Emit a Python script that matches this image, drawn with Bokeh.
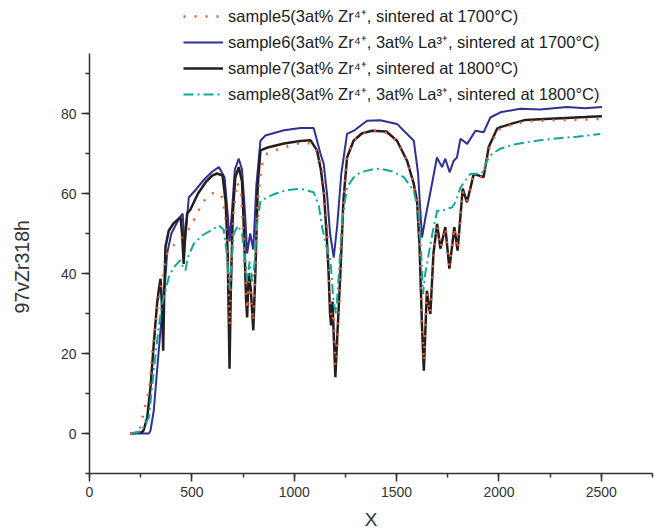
from bokeh.plotting import figure
from bokeh.models import Range1d, SingleIntervalTicker, Legend, LegendItem
from bokeh.embed import file_html
from bokeh.resources import INLINE

# ---- data ----
labels = [
    "sample5(3at% Zr\u2074\u207a, sintered at 1700\u00b0C)",
    "sample6(3at% Zr\u2074\u207a, 3at% La\u00b3\u207a, sintered at 1700\u00b0C)",
    "sample7(3at% Zr\u2074\u207a, sintered at 1800\u00b0C)",
    "sample8(3at% Zr\u2074\u207a, 3at% La\u00b3\u207a, sintered at 1800\u00b0C)",
]
x_title = "X"
y_title = "97vZr318h"

x5 = [200, 230, 246, 259, 270, 283, 293, 306, 317, 330, 342, 360, 379, 400, 428, 460, 493, 530, 566,
      600, 623, 645, 662, 675, 684, 692, 703, 721, 740, 752, 762, 770, 778, 788, 800, 810, 822, 840,
      868, 920, 998, 1050, 1090, 1115, 1140, 1160, 1175, 1185, 1193, 1200, 1207, 1215, 1226, 1240,
      1258, 1290, 1330, 1380, 1440, 1502, 1551, 1584, 1600, 1612, 1622, 1633, 1641, 1648, 1657, 1665,
      1680, 1698, 1714, 1738, 1758, 1782, 1798, 1823, 1844, 1877, 1925, 1950, 1991, 2050, 2129, 2250,
      2350, 2450, 2500]
y5 = [0, 0.6, 1.2, 4, 6.6, 9, 11.6, 20, 25.3, 30.7, 35, 40, 45, 46.5, 47.8, 49.5, 51.6, 55.5, 58.7,
      60, 60.3, 59.5, 55, 45, 27, 40, 55, 62.8, 60, 50, 38, 31, 38, 35, 28, 40, 58, 67,
      70, 71, 72.3, 72.8, 72.3, 70, 65, 52, 33, 28, 30, 17, 18, 28, 40, 58,
      69, 73.2, 75, 75.7, 75.5, 73.2, 68.2, 62.4, 58, 48, 30, 18, 27, 35, 32, 30,
      44, 52, 46.5, 51.5, 42, 51.5, 46, 60.5, 58, 64.5, 64, 71, 75.8, 77, 78, 78.3,
      78.4, 78.5, 78.7]

x6 = [200, 290, 298, 314, 330, 355, 371, 379, 400, 440, 455, 465, 475, 485, 520, 560, 600, 632, 660,
      675, 684, 695, 710, 729, 745, 760, 770, 785, 800, 815, 835, 859, 950, 1030, 1095, 1128, 1144,
      1160, 1175, 1193, 1210, 1230, 1258, 1291, 1356, 1420, 1502, 1584, 1605, 1624, 1641, 1657, 1675,
      1697, 1722, 1738, 1759, 1779, 1795, 1812, 1845, 1885, 1925, 1958, 2007, 2104, 2202, 2332, 2420,
      2503]
y6 = [0, 0, 0.75, 5.75, 15.75, 30.75, 39, 45, 50, 54, 55, 47, 53, 59, 61, 63.5, 65.5, 66.6, 64,
      55, 48, 55, 66, 68.7, 66, 55, 45, 50, 46, 62, 73.2, 74.5, 75.8, 76.4, 76.4, 70, 67.4,
      60, 50, 44, 52, 65, 74.9, 75.7, 78.2, 78.3, 77.4, 73.2, 65, 49, 54, 58.2, 63,
      69, 66.6, 68.7, 65.3, 68.2, 69, 73.7, 72.4, 75.7, 75.3, 79, 80.3, 81.2, 81, 81.6, 81.3,
      81.6]

x7 = [200, 255, 264, 282, 298, 314, 330, 340, 347, 353, 360, 365, 371, 387, 410, 428, 445, 452, 460,
      468, 477, 493, 530, 570, 600, 623, 650, 665, 675, 684, 690, 700, 712, 729, 745, 755, 765, 770,
      778, 788, 800, 810, 822, 835, 870, 950, 1030, 1080, 1111, 1130, 1145, 1158, 1168, 1175, 1180,
      1187, 1195, 1201, 1210, 1226, 1240, 1258, 1290, 1330, 1380, 1450, 1502, 1551, 1584, 1600, 1612,
      1624, 1633, 1640, 1648, 1657, 1665, 1680, 1698, 1714, 1738, 1758, 1782, 1798, 1823, 1844, 1877,
      1925, 1950, 1991, 2007, 2072, 2129, 2250, 2332, 2420, 2503]
y7 = [0, 0.3, 0.75, 4, 11.6, 22.4, 32.4, 36.5, 38.7, 33, 20.7, 35, 46.6, 50.7, 52.5, 53.3, 54, 50, 42.4,
      50, 55, 56, 60, 63, 64.5, 65, 64.5, 58, 45, 16.2, 35, 55, 64, 66.6, 63, 50, 33, 29,
      40, 36, 25.8, 40, 62, 70.8, 71.5, 72.5, 73.1, 73.3, 70.8, 66, 60, 50, 40, 30, 27,
      33, 22, 14.1, 24, 40.7, 58, 69, 73.2, 75, 75.7, 75.5, 73.2, 68.2, 62.4, 58, 47,
      27, 15.7, 25, 35.7, 32, 29.9, 45, 52.4, 46.2, 51.6, 41.2, 51.6, 45.7, 61.2, 57.8, 64.9,
      64.1, 71.6, 76.2, 76.6, 77.6, 78.4, 78.7, 78.9, 79.1, 79.3]

x8 = [200, 240, 265, 290, 314, 338, 355, 371, 387, 410, 444, 458, 469, 480, 509, 550, 591, 631, 655,
      668, 678, 684, 692, 705, 725, 745, 760, 770, 782, 795, 805, 818, 835, 900, 960, 1030, 1095, 1120,
      1136, 1160, 1177, 1193, 1205, 1218, 1234, 1258, 1290, 1323, 1380, 1421, 1480, 1535, 1584, 1608,
      1620, 1629, 1640, 1657, 1675, 1698, 1720, 1745, 1770, 1790, 1812, 1840, 1860, 1917, 1940, 1966,
      2007, 2070, 2137, 2200, 2267, 2381, 2495]
y8 = [0, 0.3, 1.6, 4, 15.7, 26.6, 32.5, 35.7, 39, 41.5, 43.3, 41.5, 40.8, 44, 47.4, 49.5, 50.7, 52, 51,
      46, 40, 36, 42, 50, 52, 50, 44, 38, 43, 38, 42, 52, 58.2, 59.8, 60.8, 61.2, 60.3, 57,
      51.6, 46, 43.2, 32.4, 30, 40, 53.2, 61.6, 64, 65.3, 66, 66.2, 65.5, 64.1, 60.7, 55,
      45, 34.9, 40, 44.9, 50, 55.7, 55.5, 56.2, 56.5, 58, 61.5, 63.5, 64.9, 65, 68, 69.9,
      71.2, 72.2, 72.8, 73.3, 73.7, 74.2, 74.9]

FONT = "Liberation Sans"

# frame spans the full height so that the legend (which sits above the axis top) is not clipped;
# the axis line itself is limited to -10..95 with bounds
p = figure(width=655, height=532, output_backend="svg", toolbar_location=None,
           x_range=Range1d(0, 2750), y_range=Range1d(-10, 108.25),
           min_border_left=89, min_border_right=3, min_border_top=0, min_border_bottom=59)

p.outline_line_color = None
p.xgrid.visible = False
p.ygrid.visible = False
p.background_fill_color = "white"
p.border_fill_color = "white"

r6 = p.line(x6, y6, line_color="#2E3192", line_width=2)
r7 = p.line(x7, y7, line_color="#231F20", line_width=2.5)
r8 = p.line(x8, y8, line_color="#0FA89E", line_width=2, line_dash="10 4 2 4")
r5 = p.line(x5, y5, line_color="#EE5A2A", line_width=2.5, line_dash="2 9")

for ax in (p.xaxis[0], p.yaxis[0]):
    ax.axis_line_color = "#333333"
    ax.axis_line_width = 1.5
    ax.major_tick_line_color = "#333333"
    ax.minor_tick_line_color = "#333333"
    ax.major_tick_line_width = 1.5
    ax.minor_tick_line_width = 1.5
    ax.major_tick_out = 8
    ax.major_tick_in = 0
    ax.minor_tick_out = 4
    ax.minor_tick_in = 0
    ax.major_label_text_font = FONT
    ax.major_label_text_font_size = "14px"
    ax.major_label_text_color = "#333333"
    ax.major_label_standoff = 5
    ax.axis_label_text_font = FONT
    ax.axis_label_text_font_style = "normal"
    ax.axis_label_text_color = "#333333"

p.xaxis.axis_label_text_font_size = "19px"
p.yaxis.axis_label_text_font_size = "19.5px"
p.xaxis.ticker = SingleIntervalTicker(interval=500, num_minor_ticks=2)
p.yaxis.ticker = SingleIntervalTicker(interval=20, num_minor_ticks=2)
p.xaxis.bounds = (0, 2750)
p.yaxis.bounds = (-10, 95)
p.xaxis.axis_label = x_title
# trailing no-break spaces shift the centred label down to the middle of the drawn axis
p.yaxis.axis_label = y_title + "\u00a0" * 11
p.xaxis.axis_label_standoff = 9
p.yaxis.axis_label_standoff = 25

legend = Legend(items=[
    LegendItem(label=labels[0], renderers=[r5]),
    LegendItem(label=labels[1], renderers=[r6]),
    LegendItem(label=labels[2], renderers=[r7]),
    LegendItem(label=labels[3], renderers=[r8]),
], location=(94, 368))
legend.border_line_color = None
legend.background_fill_alpha = 0
legend.padding = 0
legend.margin = 0
legend.spacing = 3
legend.glyph_width = 40
legend.glyph_height = 20
legend.label_height = 20
legend.label_standoff = 5
legend.label_text_font = FONT
legend.label_text_font_size = "16.5px"
legend.label_text_color = "#222222"
p.add_layout(legend, "center")

open("out.html", "w").write(file_html(p, INLINE))
